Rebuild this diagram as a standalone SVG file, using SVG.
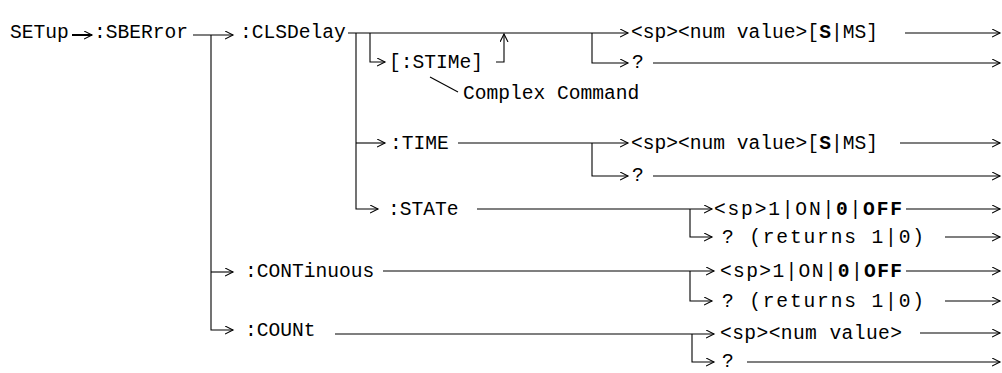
<svg xmlns="http://www.w3.org/2000/svg" width="1002" height="373" viewBox="0 0 1002 373">
<style>
text{font-family:"Liberation Mono","DejaVu Sans Mono",monospace;font-size:19.6px;fill:#000}
.b{font-weight:bold}
.c path,.c line{stroke:#000;stroke-width:1.1;fill:none}
.c .bold{stroke-width:2}
.c .a{marker-end:url(#ah)}
</style>
<defs>
<marker id="ah" markerUnits="userSpaceOnUse" markerWidth="10" markerHeight="10" refX="8" refY="4.5" orient="auto">
<path d="M0,0.5 L8,4.5 L0,8.5" fill="none" stroke="#000" stroke-width="1.1"/>
</marker>
</defs>
<rect width="1002" height="373" fill="#fff"/>
<g id="connectors" class="c">
<path class="a bold" d="M72,35 H92"/>
<path class="a" d="M193,35 H233"/>
<path class="a" d="M211,35 V330 H233"/>
<path class="a" d="M211,272 H233"/>
<path class="a" d="M348,33 H628"/>
<path class="a" d="M356,33 V209 H378"/>
<path class="a" d="M356,143 H385"/>
<path class="a" d="M370,33 V62 H385"/>
<path class="a" d="M496,62 H504 V34"/>
<path class="a" d="M592,33 V63 H628"/>
<path class="a" d="M653,63 H1000"/>
<path class="a" d="M905,33 H1000"/>
<path class="a" d="M458,143 H628"/>
<path class="a" d="M592,143 V176 H628"/>
<path class="a" d="M900,143 H1000"/>
<path class="a" d="M653,176 H1000"/>
<path class="a" d="M477,209 H712"/>
<path class="a" d="M690,209 V237 H712"/>
<path class="a" d="M906,209 H1000"/>
<path class="a" d="M945,237 H1000"/>
<path class="a" d="M383,271 H714"/>
<path class="a" d="M690,271 V301 H712"/>
<path class="a" d="M906,271 H1000"/>
<path class="a" d="M945,301 H1000"/>
<path class="a" d="M335,334 H714"/>
<path class="a" d="M692,334 V362 H714"/>
<path class="a" d="M920,333 H1000"/>
<path class="a" d="M747,362 H1000"/>
<line x1="430" y1="77" x2="458" y2="92"/>
</g>
<g id="n-setup"><text x="10" y="38">SETup</text></g>
<g id="n-sberror"><text x="94" y="38">:SBERror</text></g>
<g id="n-clsdelay"><text x="240" y="38">:CLSDelay</text></g>
<g id="n-stime"><text x="389" y="68">[:STIMe]</text></g>
<g id="n-complex"><text x="463" y="99">Complex Command</text></g>
<g id="n-time"><text x="390" y="149">:TIME</text></g>
<g id="n-state"><text x="388" y="215">:STATe</text></g>
<g id="n-continuous"><text x="245" y="277">:CONTinuous</text></g>
<g id="n-count"><text x="245" y="336">:COUNt</text></g>
<g id="n-cls-val"><text x="631" y="38">&lt;sp&gt;&lt;num value&gt;[<tspan class="b">S</tspan>|MS]</text></g>
<g id="n-cls-q"><text x="632" y="68">?</text></g>
<g id="n-time-val"><text x="631" y="149">&lt;sp&gt;&lt;num value&gt;[<tspan class="b">S</tspan>|MS]</text></g>
<g id="n-time-q"><text x="632" y="181">?</text></g>
<g id="n-state-val"><text x="714" y="215" textLength="188" lengthAdjust="spacing">&lt;sp&gt;1|ON|<tspan class="b">0</tspan>|<tspan class="b">OFF</tspan></text></g>
<g id="n-state-q"><text x="722" y="243" textLength="202" lengthAdjust="spacing">? (returns 1|0)</text></g>
<g id="n-cont-val"><text x="720" y="277" textLength="182" lengthAdjust="spacing">&lt;sp&gt;1|ON|<tspan class="b">0</tspan>|<tspan class="b">OFF</tspan></text></g>
<g id="n-cont-q"><text x="722" y="307" textLength="202" lengthAdjust="spacing">? (returns 1|0)</text></g>
<g id="n-count-val"><text x="720" y="339" textLength="182" lengthAdjust="spacing">&lt;sp&gt;&lt;num value&gt;</text></g>
<g id="n-count-q"><text x="722" y="367">?</text></g>
</svg>
